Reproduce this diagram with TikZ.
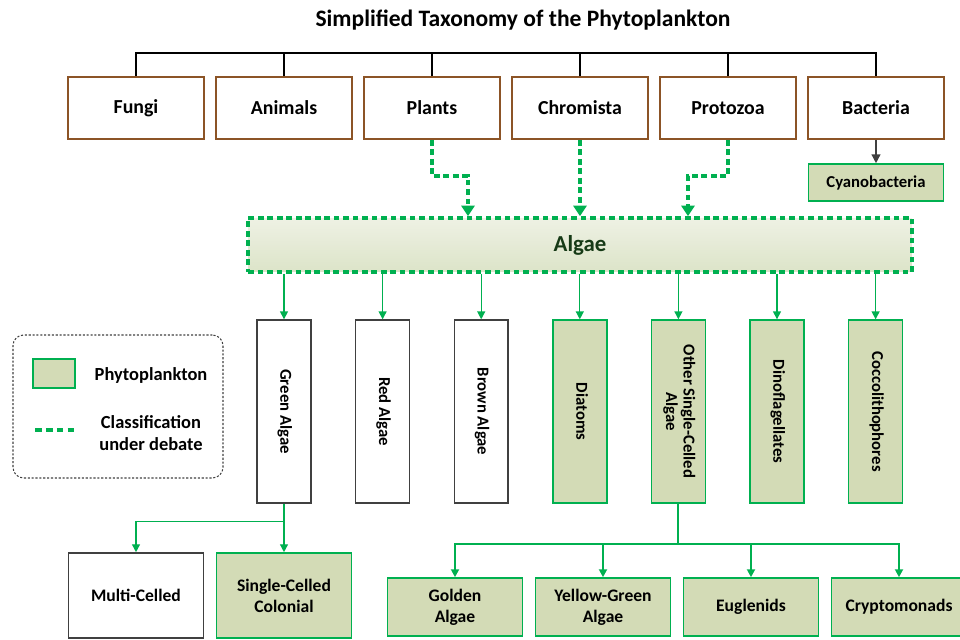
\documentclass[tikz,border=0pt]{standalone}
\usepackage{fontspec}
\setmainfont{Carlito}
\usepackage{tikz}
\usetikzlibrary{arrows.meta,calc}

\definecolor{kingbrown}{HTML}{8C5426}
\definecolor{phygreen}{HTML}{00B050}
\definecolor{phyfill}{HTML}{D3DBB6}
\definecolor{algaetop}{HTML}{EEF1E4}
\definecolor{algaebot}{HTML}{DCE4C8}
\definecolor{algaetext}{HTML}{163A16}
\definecolor{boxgray}{HTML}{404040}

\newcommand{\vlabel}[1]{\rotatebox{-90}{\begin{tabular}{@{}c@{}}#1\end{tabular}}}

\begin{document}
\begin{tikzpicture}[
  x=0.02cm, y=-0.02cm,
  every node/.style={font=\bfseries\fontsize{11.3}{13.5}\selectfont},
  kingdom/.style={draw=kingbrown, line width=1.1pt, fill=white, minimum width=2.72cm, minimum height=1.24cm},
  tallbox/.style={draw=boxgray, line width=0.8pt, fill=white, minimum width=1.08cm, minimum height=3.66cm, font=\bfseries\fontsize{9.5}{10}\selectfont},
  leafbox/.style={draw=boxgray, line width=0.9pt, fill=white, minimum width=2.70cm, align=center, font=\bfseries\fontsize{10}{12}\selectfont},
  phyto/.style={draw=phygreen, fill=phyfill},
  legendtext/.style={align=center, font=\bfseries\fontsize{10.5}{13}\selectfont},
  tree/.style={line width=1.1pt},
  debateline/.style={draw=phygreen, line width=2.1pt, dash pattern=on 3.2pt off 2.2pt},
  debate/.style={debateline, -{Triangle[width=7.5pt,length=6pt]}},
  branch/.style={draw=phygreen, line width=0.75pt, -{Triangle[width=4.5pt,length=4.5pt]}},
]
\useasboundingbox (0,0) rectangle (960,639);

% Title
\node (title) at (523,20) {\fontsize{13.4}{16}\selectfont Simplified Taxonomy of the Phytoplankton};

% Kingdoms
\node[kingdom] (fungi)     at (136,108) {Fungi};
\node[kingdom] (animals)   at (284,108) {Animals};
\node[kingdom] (plants)    at (432,108) {Plants};
\node[kingdom] (chromista) at (580,108) {Chromista};
\node[kingdom] (protozoa)  at (728,108) {Protozoa};
\node[kingdom] (bacteria)  at (876,108) {Bacteria};

\draw[tree] (fungi.north) -- ++(0,-23) -| (bacteria.north);
\draw[tree] (animals.north) -- ++(0,-23);
\draw[tree] (plants.north) -- ++(0,-23);
\draw[tree] (chromista.north) -- ++(0,-23);
\draw[tree] (protozoa.north) -- ++(0,-23);

% Cyanobacteria
\node[phyto, line width=0.9pt, minimum width=2.70cm, minimum height=0.74cm, font=\bfseries\fontsize{9.5}{11}\selectfont] (cyano) at (876,182.5) {Cyanobacteria};
\draw[boxgray, line width=0.8pt, -{Triangle[width=5pt,length=5pt]}] (bacteria.south) -- (cyano.north);

% Algae
\node[debateline, top color=algaetop, bottom color=algaebot, minimum width=13.28cm, minimum height=1.08cm, text=algaetext, font=\bfseries\fontsize{13}{15}\selectfont] (algae) at (580,245) {Algae};

\draw[debate] (plants.south) -- ++(0,36) -| ($(algae.north)+(-112,0)$);
\draw[debate] (chromista.south) -- (algae.north);
\draw[debate] (protozoa.south) -- ++(0,36) -| ($(algae.north)+(108,0)$);

% Algae groups
\node[tallbox] (green)    at (284,411.5)   {\vlabel{Green Algae}};
\node[tallbox] (red)      at (382.6,411.5) {\vlabel{Red Algae}};
\node[tallbox] (brown)    at (481.2,411.5) {\vlabel{Brown Algae}};
\node[tallbox, phyto] (diatoms) at (579.8,411.5) {\vlabel{Diatoms}};
\node[tallbox, phyto] (other)   at (678.4,411.5) {\vlabel{Other Single-Celled\\Algae}};
\node[tallbox, phyto] (dino)    at (777,411.5)   {\vlabel{Dinoflagellates}};
\node[tallbox, phyto] (cocco)   at (875.6,411.5) {\vlabel{Coccolithophores}};

\draw[branch] (algae.south -| green) -- (green.north);
\draw[branch] (algae.south -| red) -- (red.north);
\draw[branch] (algae.south -| brown) -- (brown.north);
\draw[branch] (algae.south -| diatoms) -- (diatoms.north);
\draw[branch] (algae.south -| other) -- (other.north);
\draw[branch] (algae.south -| dino) -- (dino.north);
\draw[branch] (algae.south -| cocco) -- (cocco.north);

% Legend
\node[draw=boxgray, line width=0.6pt, dash pattern=on 1.2pt off 1pt, rounded corners=6pt, minimum width=4.2cm, minimum height=2.86cm] (legend) at (118,406.5) {};
\node[phyto, line width=0.9pt, minimum width=0.84cm, minimum height=0.58cm] (swatch) at (54,373.5) {};
\node[legendtext] (lgphyto) at (151,375) {Phytoplankton};
\coordinate (dashstart) at (35,430);
\draw[debateline, dash pattern=on 3.8pt off 2.4pt] (dashstart) -- ++(41,0);
\node[legendtext] (lgdebate) at (151,433) {Classification\\under debate};

% Green algae forms
\node[leafbox, minimum height=1.70cm] (multi) at (136,595.5) {Multi-Celled};
\node[leafbox, phyto, minimum height=1.70cm] (single) at (284,595.5) {Single-Celled\\Colonial};
\draw[branch] (green.south) -- ++(0,18) -| (multi.north);
\draw[branch] (green.south) -- (single.north);

% Other single-celled algae
\node[leafbox, phyto, minimum height=1.16cm] (golden)    at (455,607) {Golden\\Algae};
\node[leafbox, phyto, minimum height=1.16cm] (yellow)    at (603,607) {Yellow-Green\\Algae};
\node[leafbox, phyto, minimum height=1.16cm] (euglenids) at (751,607) {Euglenids};
\node[leafbox, phyto, minimum height=1.16cm] (crypto)    at (899,607) {Cryptomonads};
\draw[branch, line width=1.2pt] (other.south) -- ++(0,40) -| (golden.north);
\draw[branch, line width=1.2pt] (other.south) -- ++(0,40) -| (yellow.north);
\draw[branch, line width=1.2pt] (other.south) -- ++(0,40) -| (euglenids.north);
\draw[branch, line width=1.2pt] (other.south) -- ++(0,40) -| (crypto.north);

\end{tikzpicture}
\end{document}
